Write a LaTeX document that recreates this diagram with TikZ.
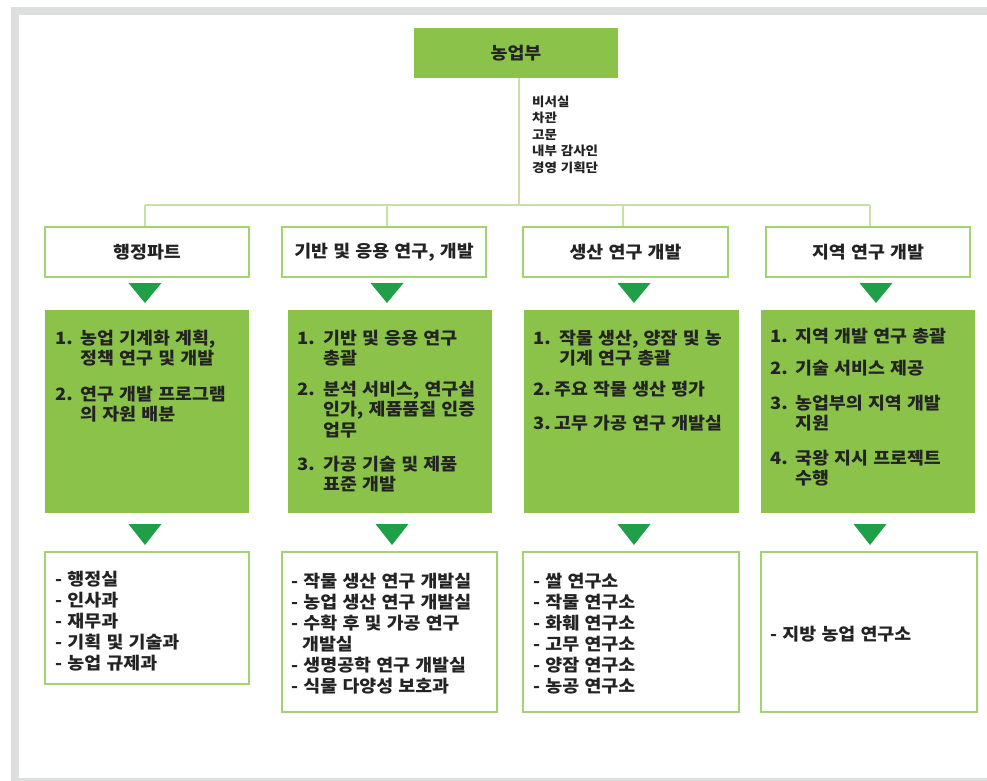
\documentclass[tikz,border=0pt]{standalone}
\usepackage{fontspec}
\setmainfont{Noto Sans CJK KR}[FakeStretch=1.08, WordSpace=1.25]
\definecolor{framegray}{RGB}{221,223,223}
\definecolor{boxgreen}{RGB}{139,195,74}
\definecolor{bordergreen}{RGB}{163,210,112}
\definecolor{linegreen}{RGB}{198,224,168}
\definecolor{trigreen}{RGB}{31,160,72}
\definecolor{txt}{RGB}{35,35,35}
\tikzset{
  head/.style={draw=bordergreen, line width=2pt, fill=white, minimum width=204pt, minimum height=50pt, inner sep=0pt, text=txt, font=\bfseries\fontsize{17}{20}\selectfont},
  greenbox/.style={fill=boxgreen, draw=none, minimum width=204pt, minimum height=203pt, inner sep=0pt},
  listbox/.style={draw=bordergreen, line width=2pt, fill=white, minimum width=204pt, inner sep=0pt},
  item/.style={anchor=north west, inner sep=0pt, align=left, text=txt, font=\bfseries\fontsize{17}{20.5}\selectfont},
  litem/.style={anchor=north west, inner sep=0pt, align=left, text=txt, font=\bfseries\fontsize{17}{21}\selectfont},
  conn/.style={draw=linegreen, line width=1.6pt},
  tri/.style={fill=trigreen},
}
\newcommand\dtri[3]{\fill[tri] (#1-16.5,#2) -- (#1+16.5,#2) -- (#1,#3) -- cycle;}
\newcommand\hang[2]{\makebox[#1][l]{#2}}
\begin{document}
\begin{tikzpicture}[x=1pt,y=-1pt]
\useasboundingbox (0,0) rectangle (987,781);
% frame
\fill[framegray] (11,7) rectangle (987,781);
\fill[white] (19,15) rectangle (987,778);

% top
\node[fill=boxgreen, minimum width=204pt, minimum height=50pt, inner sep=0pt, text=txt, font=\bfseries\fontsize{17}{20}\selectfont] (top) at (516,53) {농업부};

% headings
\node[head] (h1) at (147,252) {행정파트};
\node[head] (h2) at (384,252) {기반 및 응용 연구, 개발};
\node[head, minimum width=205pt] (h3) at (625.5,252) {생산 연구 개발};
\node[head] (h4) at (868,252) {지역 연구 개발};

% connectors
\coordinate (stem) at (519,205);
\coordinate (d1) at (145,205);
\coordinate (d2) at (387,205);
\coordinate (d3) at (623,205);
\coordinate (d4) at (870,205);
\draw[conn] (top.south -| stem) -- (stem);
\draw[conn] (d1) -- (d4);
\draw[conn] (d1) -- (d1 |- h1.north);
\draw[conn] (d2) -- (d2 |- h2.north);
\draw[conn] (d3) -- (d3 |- h3.north);
\draw[conn] (d4) -- (d4 |- h4.north);

\node[anchor=north west, inner sep=0pt, align=left, text=txt, font=\bfseries\fontsize{12.5}{16.5}\selectfont] (staff) at (532,95.5) {비서실\\차관\\고문\\내부 감사인\\경영 기획단};

% green boxes
\node[greenbox] (g1) at (147,411.5) {};
\node[greenbox] (g2) at (390,411.5) {};
\node[greenbox, minimum width=215pt] (g3) at (631.5,411.5) {};
\node[greenbox, minimum width=214pt] (g4) at (868,411.5) {};

% triangles row 1
\dtri{145}{283}{303}
\dtri{387}{283}{303}
\dtri{634}{283}{303}
\dtri{876}{283}{303}

% items box 1
\node[item] (g1a) at (55,329.5) {\hang{25pt}{1.}농업 기계화 계획,\\\hspace*{25pt}정책 연구 및 개발};
\node[item] (g1b) at (55,385.5) {\hang{25pt}{2.}연구 개발 프로그램\\\hspace*{25pt}의 자원 배분};
% items box 2
\node[item] (g2a) at (297,329.5) {\hang{26pt}{1.}기반 및 응용 연구\\\hspace*{26pt}총괄};
\node[item] (g2b) at (297,380.5) {\hang{26pt}{2.}분석 서비스, 연구실\\\hspace*{26pt}인가, 제품품질 인증\\\hspace*{26pt}업무};
\node[item] (g2c) at (297,455.5) {\hang{26pt}{3.}가공 기술 및 제품\\\hspace*{26pt}표준 개발};
% items box 3
\node[item] (g3a) at (533,329.5) {\hang{26pt}{1.}작물 생산, 양잠 및 농\\\hspace*{26pt}기계 연구 총괄};
\node[item] (g3b) at (533,380.5) {\hang{21pt}{2.}주요 작물 생산 평가};
\node[item] (g3c) at (533,414.5) {\hang{21pt}{3.}고무 가공 연구 개발실};
% items box 4
\node[item] (g4a) at (770,327.5) {\hang{25pt}{1.}지역 개발 연구 총괄};
\node[item] (g4b) at (770,359.5) {\hang{25pt}{2.}기술 서비스 제공};
\node[item] (g4c) at (770,394.5) {\hang{25pt}{3.}농업부의 지역 개발\\\hspace*{25pt}지원};
\node[item] (g4d) at (770,449.5) {\hang{25pt}{4.}국왕 지시 프로젝트\\\hspace*{25pt}수행};

% triangles row 2
\dtri{145}{524}{545}
\dtri{392}{524}{545}
\dtri{634}{524}{545}
\dtri{870}{524}{545}

% list boxes
\node[listbox, minimum height=132pt] (b1) at (147,618) {};
\node[listbox, minimum width=215pt, minimum height=160pt] (b2) at (389.5,632) {};
\node[listbox, minimum width=216pt, minimum height=160pt] (b3) at (631,632) {};
\node[listbox, minimum width=216pt, minimum height=160pt] (b4) at (869,632) {};

\node[litem] (l1) at (55,570.5) {- 행정실\\- 인사과\\- 재무과\\- 기획 및 기술과\\- 농업 규제과};
\node[litem] (l2) at (291,572.5) {- 작물 생산 연구 개발실\\- 농업 생산 연구 개발실\\- 수확 후 및 가공 연구\\\hspace*{11pt}개발실\\- 생명공학 연구 개발실\\- 식물 다양성 보호과};
\node[litem] (l3) at (533,572.5) {- 쌀 연구소\\- 작물 연구소\\- 화훼 연구소\\- 고무 연구소\\- 양잠 연구소\\- 농공 연구소};
\node[litem] (l4) at (770,625.5) {- 지방 농업 연구소};
\end{tikzpicture}
\end{document}
